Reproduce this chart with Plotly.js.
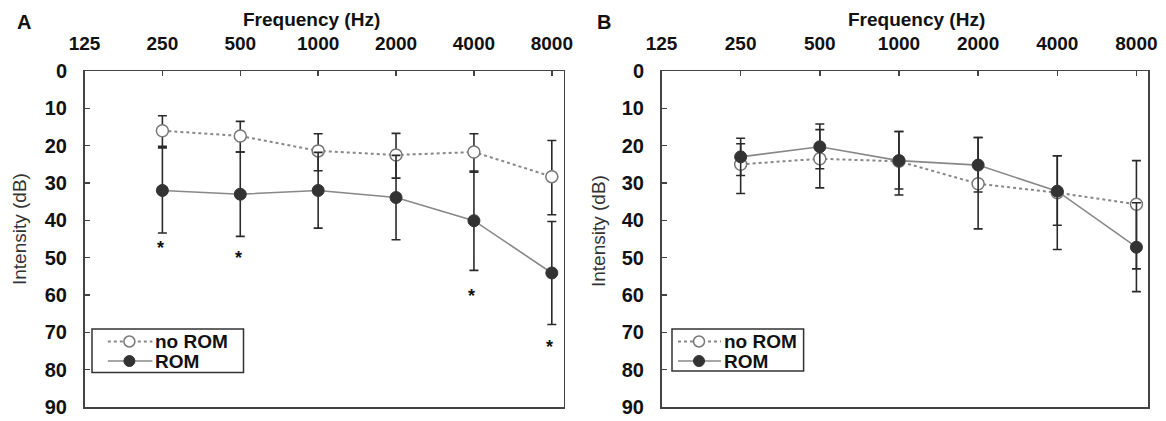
<!DOCTYPE html>
<html>
<head>
<meta charset="utf-8">
<script src="https://cdn.plot.ly/plotly-3.0.1.min.js"></script>
<style>html,body{margin:0;padding:0;background:#fff;}#chart{width:1166px;height:421px;}</style>
</head>
<body>
<div id="chart"></div>
<script>
// ---- data ----
const freqs = [250, 500, 1000, 2000, 4000, 8000];
const tickFreqs = [125, 250, 500, 1000, 2000, 4000, 8000];
const tickLabels = ['125', '250', '500', '1000', '2000', '4000', '8000'];
const yTicks = [0, 10, 20, 30, 40, 50, 60, 70, 80, 90];
const seriesNames = ['no ROM', 'ROM'];

// Panel A
const aNoRomMean = [16.0, 17.4, 21.4, 22.5, 21.7, 28.3];
const aNoRomErrUp = [4.0, 3.9, 4.6, 5.8, 4.9, 9.7];
const aNoRomErrDown = [4.2, 4.3, 5.3, 6.2, 5.4, 10.2];
const aRomMean = [32.0, 33.0, 32.0, 33.9, 40.1, 54.1];
const aRomErrUp = [11.4, 11.3, 10.2, 11.3, 13.3, 13.8];
const aRomErrDown = [11.4, 11.3, 10.1, 11.3, 13.3, 13.8];
const aStarFreqs = [250, 500, 4000, 8000];
const aStarY = [46.0, 48.8, 59.0, 72.5];

// Panel B
const bNoRomMean = [25.0, 23.5, 24.2, 30.2, 32.6, 35.7];
const bNoRomErrUp = [5.5, 7.8, 8.0, 12.4, 9.9, 11.7];
const bNoRomErrDown = [7.8, 7.8, 9.0, 12.1, 15.2, 17.3];
const bRomMean = [23.0, 20.3, 24.0, 25.2, 32.2, 47.2];
const bRomErrUp = [5.0, 6.1, 7.8, 7.4, 9.5, 11.9];
const bRomErrDown = [5.0, 5.9, 7.6, 7.2, 9.1, 11.9];

// ---- styling ----
const W = 1166, H = 421;
const FONT = 'Liberation Sans, Arial, sans-serif';
const frameColor = '#444';
const px = v => v / W;
const py = v => 1 - v / H;

function errBar(up, down) {
  // y axis reversed: "array" is toward larger dB (downwards)
  return {type: 'data', symmetric: false, array: down, arrayminus: up,
          color: '#2a2a2a', thickness: 1.6, width: 4.5};
}
const noRomLine = {color: '#888', width: 2, dash: 'dot'};
const noRomMarker = {symbol: 'circle', size: 12, color: '#fff', line: {color: '#777', width: 1.5}};
const romLine = {color: '#888', width: 1.6};
const romMarker = {symbol: 'circle', size: 12, color: '#333', line: {color: '#333', width: 1}};

function trace(name, y, up, down, xa, ya, line, marker) {
  return {x: freqs, y: y, name: name, type: 'scatter', mode: 'lines+markers',
    xaxis: xa, yaxis: ya, line: line, marker: marker,
    error_y: errBar(up, down), hoverinfo: 'skip', showlegend: false};
}

const data = [
  trace(seriesNames[0], aNoRomMean, aNoRomErrUp, aNoRomErrDown, 'x', 'y', noRomLine, noRomMarker),
  trace(seriesNames[1], aRomMean, aRomErrUp, aRomErrDown, 'x', 'y', romLine, romMarker),
  trace(seriesNames[0], bNoRomMean, bNoRomErrUp, bNoRomErrDown, 'x2', 'y2', noRomLine, noRomMarker),
  trace(seriesNames[1], bRomMean, bRomErrUp, bRomErrDown, 'x2', 'y2', romLine, romMarker)
];

const lx0 = Math.log10(125);
const xRange = [lx0, lx0 + 6.15 * Math.log10(2)];
const yDomain = [1 - 407 / H, 1 - 71 / H];

function xAxis(d0, d1, anchor) {
  return {domain: [d0 / W, d1 / W], anchor: anchor, type: 'log', range: xRange,
    side: 'top', tickmode: 'array', tickvals: tickFreqs, ticktext: tickLabels,
    ticks: 'inside', ticklen: 5, tickwidth: 1.5, tickcolor: frameColor,
    showline: true, linecolor: frameColor, linewidth: 1.5, mirror: true,
    showgrid: false, zeroline: false, ticklabelstandoff: 12,
    tickfont: {family: FONT, size: 19, weight: 'bold', color: '#111'}};
}
function yAxis(anchor) {
  return {domain: yDomain, anchor: anchor, range: [90, 0], tickmode: 'array', tickvals: yTicks,
    ticks: 'inside', ticklen: 5, tickwidth: 1.5, tickcolor: frameColor,
    showline: true, linecolor: frameColor, linewidth: 1.5, mirror: true,
    showgrid: false, zeroline: false, ticklabelstandoff: 12,
    tickfont: {family: FONT, size: 20, weight: 'bold', color: '#111'}};
}

function txt(text, x, y, size, opts) {
  return Object.assign({text: text, x: px(x), y: py(y), xref: 'paper', yref: 'paper',
    showarrow: false, xanchor: 'center', yanchor: 'middle',
    font: {family: FONT, size: size, weight: 'bold', color: '#111'}}, opts || {});
}

const annotations = [
  txt('A', 24, 22, 20),
  txt('B', 604, 22, 20),
  txt('Frequency (Hz)', 311, 19, 19),
  txt('Frequency (Hz)', 916, 19, 19),
  txt('Intensity (dB)', 19, 229, 19, {textangle: -90, font: {family: FONT, size: 19, color: '#333'}}),
  txt('Intensity (dB)', 598, 231, 19, {textangle: -90, font: {family: FONT, size: 19, color: '#333'}})
];
aStarFreqs.forEach((f, i) => {
  annotations.push({text: '*', x: Math.log10(f), y: aStarY[i], xref: 'x', yref: 'y',
    showarrow: false, xshift: -2, yshift: -5,
    font: {family: FONT, size: 18, weight: 'bold', color: '#111'}});
});

// ---- hand-drawn legend boxes (paper coordinates) ----
const shapes = [];
function legend(box, lineX0, lineX1, markX, textX, rows) {
  shapes.push({type: 'rect', xref: 'paper', yref: 'paper',
    x0: px(box[0]), x1: px(box[1]), y0: py(box[3]), y1: py(box[2]),
    line: {color: '#333', width: 1.5}, fillcolor: '#fff', layer: 'above'});
  const styles = [[noRomLine, noRomMarker], [romLine, romMarker]];
  rows.forEach((ry, i) => {
    const [ln, mk] = styles[i];
    shapes.push({type: 'line', xref: 'paper', yref: 'paper',
      x0: px(lineX0), x1: px(lineX1), y0: py(ry), y1: py(ry),
      line: {color: ln.color, width: ln.width, dash: ln.dash || 'solid'}, layer: 'above'});
    const r = 5.5;
    shapes.push({type: 'circle', xref: 'paper', yref: 'paper',
      x0: px(markX - r), x1: px(markX + r), y0: py(ry + r), y1: py(ry - r),
      fillcolor: mk.color, line: {color: mk.line.color, width: mk.line.width}, layer: 'above'});
    annotations.push(txt(seriesNames[i], textX, ry, 19, {xanchor: 'left'}));
  });
}
legend([92, 243.5, 329, 372.5], 107.8, 152.4, 129.4, 153, [341.5, 361]);
legend([672, 803.6, 329, 371], 678, 721, 699, 722, [341.5, 361]);

const layout = {
  width: W, height: H, autosize: false,
  margin: {l: 0, r: 0, t: 0, b: 0, pad: 0},
  paper_bgcolor: '#fff', plot_bgcolor: '#fff',
  showlegend: false,
  xaxis: xAxis(84.5, 563.5, 'y'),
  yaxis: yAxis('x'),
  xaxis2: xAxis(661.5, 1148.3, 'y2'),
  yaxis2: yAxis('x2'),
  annotations: annotations,
  shapes: shapes
};

Plotly.newPlot('chart', data, layout, {displayModeBar: false, staticPlot: true});
</script>
</body>
</html>
